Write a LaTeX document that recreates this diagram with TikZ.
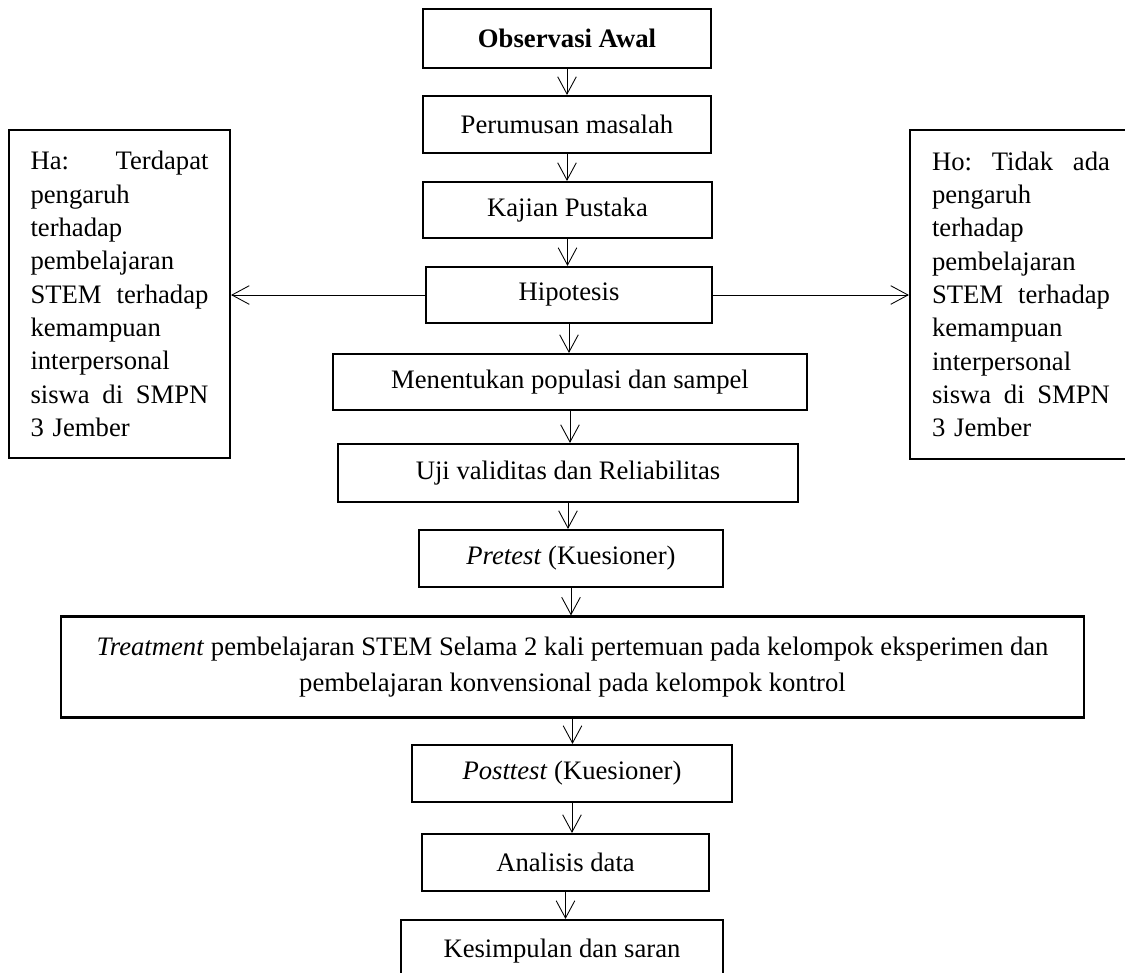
\documentclass[tikz,border=0pt]{standalone}
\usepackage{fontspec}
\setmainfont{Liberation Serif}
\usetikzlibrary{arrows.meta}
\newcommand{\jline}[1]{\leavevmode\hbox to 133.5pt{#1}}
\begin{document}
\begin{tikzpicture}[x=0.75pt,y=-0.75pt,
  box/.style={draw, line width=1.6pt, inner sep=0pt, font=\fontsize{20}{25}\selectfont},
  side/.style={box, align=left, text width=133.5pt},
  arr/.style={line width=0.65pt, -{Straight Barb[length=13pt,width=14pt,line width=0.65pt]}}]
\useasboundingbox (0,0) rectangle (1125,972);
\fill[white] (0,0) rectangle (1125,972);
\clip (0,0) rectangle (1125,972);

\node[box, minimum width=216pt, minimum height=44.25pt] (obs) at (567,38.5) {\textbf{Observasi Awal}};
\node[box, minimum width=216pt, minimum height=42.75pt] (per) at (567,124.5) {Perumusan masalah};
\node[box, minimum width=216.75pt, minimum height=42pt] (kaj) at (567.5,210) {Kajian Pustaka};
\node[box, minimum width=214.5pt, minimum height=42pt] (hip) at (569,295) {Hipotesis};
\node[box, minimum width=355.5pt, minimum height=42pt] (men) at (570,382) {Menentukan populasi dan sampel};
\node[box, minimum width=345pt, minimum height=43.5pt] (uji) at (568,473) {Uji validitas dan Reliabilitas};
\node[box, minimum width=228pt, minimum height=42.75pt] (pre) at (571,558.5) {\textit{Pretest} (Kuesioner)};
\node[box, minimum width=767.25pt, minimum height=75.75pt, align=center,
      font=\fontsize{20}{27.5}\selectfont] (tre) at (572.5,667)
  {\textit{Treatment} pembelajaran STEM Selama 2 kali pertemuan pada kelompok eksperimen dan\\
   pembelajaran konvensional pada kelompok kontrol};
\node[box, minimum width=240pt, minimum height=42.75pt] (post) at (572,773.5) {\textit{Posttest} (Kuesioner)};
\node[box, minimum width=215.25pt, minimum height=42.75pt] (ana) at (565.5,862.5) {Analisis data};
\node[box, minimum width=241.5pt, minimum height=46.5pt] (kes) at (562,951) {Kesimpulan dan saran};

\node[side, minimum width=165.75pt, minimum height=246pt] (ha) at (119.5,294)
  {\jline{Ha:\hfill Terdapat}\\ pengaruh\\ terhadap\\ pembelajaran\\
   \jline{STEM\hfill terhadap}\\ kemampuan\\ interpersonal\\
   \jline{siswa\hfill di\hfill SMPN}\\ 3 Jember};
\node[side, minimum width=166.5pt, minimum height=246.75pt] (ho) at (1021,294.5)
  {\jline{Ho:\hfill Tidak\hfill ada}\\ pengaruh\\ terhadap\\ pembelajaran\\
   \jline{STEM\hfill terhadap}\\ kemampuan\\ interpersonal\\
   \jline{siswa\hfill di\hfill SMPN}\\ 3 Jember};

\draw[arr] (obs.south) -- (obs.south |- per.north);
\draw[arr] (per.south) -- (per.south |- kaj.north);
\draw[arr] (kaj.south) -- (kaj.south |- hip.north);
\draw[arr] (hip.south) -- (hip.south |- men.north);
\draw[arr] (men.south) -- (men.south |- uji.north);
\draw[arr] (uji.south) -- (uji.south |- pre.north);
\draw[arr] (pre.south) -- (pre.south |- tre.north);
\draw[arr] (tre.south) -- (tre.south |- post.north);
\draw[arr] (post.south) -- (post.south |- ana.north);
\draw[arr] (ana.south) -- (ana.south |- kes.north);
\draw[arr] (hip.west) -- (hip.west -| ha.east);
\draw[arr] (hip.east) -- (hip.east -| ho.west);
\end{tikzpicture}
\end{document}
